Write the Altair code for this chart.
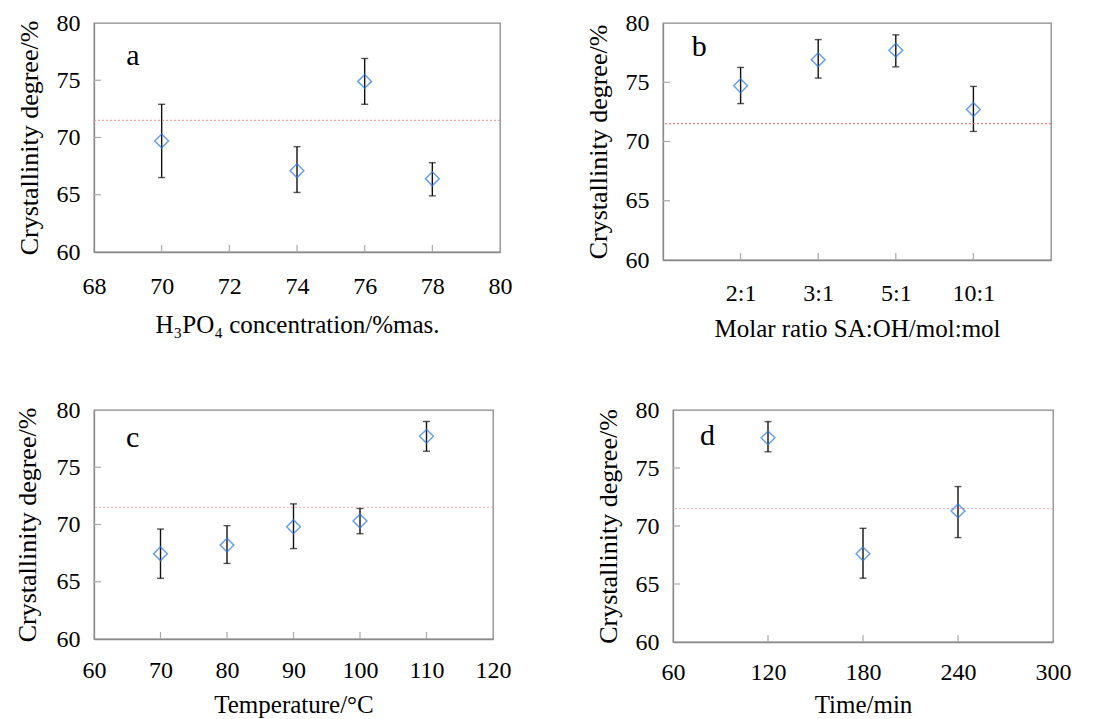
import altair as alt
import pandas as pd

FONT = "Liberation Serif"
Y_TITLE = "Crystallinity degree/%"
REF_Y = [71.5]
Y_TICKS = [60, 65, 70, 75, 80]
Y_INNER = [65, 70, 75]

# panel a
a_x = [70, 74, 76, 78]
a_y = [69.7, 67.1, 74.9, 66.4]
a_lo = [66.5, 65.2, 72.9, 64.9]
a_hi = [72.9, 69.2, 76.9, 67.8]
a_ticks = [68, 70, 72, 74, 76, 78, 80]

# panel b
b_cat = ["2:1", "3:1", "5:1", "10:1"]
b_y = [74.7, 76.9, 77.7, 72.7]
b_lo = [73.2, 75.35, 76.3, 70.85]
b_hi = [76.25, 78.6, 79.0, 74.65]

# panel c
c_x = [70, 80, 90, 100, 110]
c_y = [67.45, 68.2, 69.8, 70.3, 77.7]
c_lo = [65.3, 66.6, 67.9, 69.2, 76.4]
c_hi = [69.6, 69.9, 71.8, 71.4, 79.0]
c_ticks = [60, 70, 80, 90, 100, 110, 120]

# panel d
d_x = [120, 180, 240]
d_y = [77.6, 67.6, 71.3]
d_lo = [76.4, 65.5, 69.0]
d_hi = [79.0, 69.8, 73.4]
d_ticks = [60, 120, 180, 240, 300]

BLUE = "#2f78dc"
FRAME = "#8a8a8a"


def panel(x, y, lo, hi, xdomain, xticks, inner_x, xtitle, letter, lxy,
          width, height, ref_color, label_expr=None, xlabpad=14, xtitlepad=12,
          ytitlepad=14):
    df = pd.DataFrame({"x": x, "y": y, "lo": lo, "hi": hi})
    xs = alt.Scale(domain=xdomain, nice=False, zero=False)
    ys = alt.Scale(domain=[60, 80], nice=False, zero=False)
    common = dict(ticks=False, grid=False, domainColor=FRAME, domainWidth=1.3,
                  labelFont=FONT, titleFont=FONT, labelFontSize=24,
                  labelColor="black", titleColor="black",
                  titleFontWeight="normal")
    ax_kw = dict(values=xticks, title=xtitle, labelPadding=xlabpad,
                 titlePadding=xtitlepad, titleFontSize=25, labelFlush=False,
                 **common)
    if label_expr:
        ax_kw["labelExpr"] = label_expr
    xaxis = alt.Axis(**ax_kw)
    yaxis = alt.Axis(values=Y_TICKS, title=Y_TITLE, labelPadding=14,
                     titlePadding=ytitlepad, titleFontSize=26, labelFlush=False,
                     **common)

    base = alt.Chart(df)
    err = base.mark_rule(color="#111", strokeWidth=1.4).encode(
        x=alt.X("x:Q", scale=xs, axis=xaxis),
        y=alt.Y("lo:Q", scale=ys, axis=yaxis),
        y2="hi:Q",
    )
    cap_lo = base.mark_tick(orient="horizontal", size=7, thickness=1.4,
                            color="#111").encode(
        x=alt.X("x:Q", scale=xs), y=alt.Y("lo:Q", scale=ys))
    cap_hi = base.mark_tick(orient="horizontal", size=7, thickness=1.4,
                            color="#111").encode(
        x=alt.X("x:Q", scale=xs), y=alt.Y("hi:Q", scale=ys))
    pts = base.mark_point(shape="diamond", filled=False, color=BLUE,
                          size=190, strokeWidth=1.5).encode(
        x=alt.X("x:Q", scale=xs), y=alt.Y("y:Q", scale=ys))
    ref = alt.Chart(pd.DataFrame({"r": REF_Y})).mark_rule(
        color=ref_color, strokeDash=[2, 2], strokeWidth=1).encode(
        y=alt.Y("r:Q", scale=ys))
    tx = alt.Chart(pd.DataFrame({"t": inner_x})).mark_rule(
        color="#aaaaaa", strokeWidth=1.2).encode(
        x=alt.X("t:Q", scale=xs), y=alt.value(height), y2=alt.value(height - 7))
    ty = alt.Chart(pd.DataFrame({"t": Y_INNER})).mark_rule(
        color="#aaaaaa", strokeWidth=1.2).encode(
        y=alt.Y("t:Q", scale=ys), x=alt.value(0), x2=alt.value(7))
    lab = alt.Chart(pd.DataFrame({"lx": [lxy[0]], "ly": [lxy[1]], "s": [letter]})).mark_text(
        font=FONT, fontSize=30, align="left", baseline="middle", color="black").encode(
        x=alt.X("lx:Q", scale=xs), y=alt.Y("ly:Q", scale=ys), text="s:N")
    return alt.layer(err, ref, tx, ty, cap_lo, cap_hi, pts, lab).properties(
        width=width, height=height)


b_pos = list(range(1, len(b_cat) + 1))
b_expr = "[''," + ",".join("'%s'" % c for c in b_cat) + "][datum.value]"

pa = panel(a_x, a_y, a_lo, a_hi, [68, 80], a_ticks, [70, 72, 74, 76, 78],
           "H\u2083PO\u2084 concentration/%mas.", "a", (68.95, 77.1),
           406, 229, "#f08a8a", xlabpad=22, xtitlepad=14)
pb = panel(b_pos, b_y, b_lo, b_hi, [0, 5], b_pos, b_pos,
           "Molar ratio SA:OH/mol:mol", "b", (0.37, 78.0),
           388, 237, "#ff5a5a", label_expr=b_expr, xlabpad=21, xtitlepad=11)
pc = panel(c_x, c_y, c_lo, c_hi, [60, 120], c_ticks, [70, 80, 90, 100, 110],
           "Temperature/\u00b0C", "c", (64.8, 77.55),
           399, 229, "#f7b0b0", xlabpad=19, xtitlepad=10, ytitlepad=16)
pd_ = panel(d_x, d_y, d_lo, d_hi, [60, 300], d_ticks, [120, 180, 240],
            "Time/min", "d", (77.0, 77.8),
            380, 232, "#f7b0b0", xlabpad=18, xtitlepad=8)

top = alt.hconcat(pa, pb, spacing=71)
bottom = alt.hconcat(pc, pd_, spacing=82)
chart = alt.vconcat(top, bottom, spacing=55).properties(
    padding={"left": 5, "top": 2, "right": 5, "bottom": 5}
).configure_view(stroke=FRAME, strokeWidth=1.3)

chart.save("out.html", embed_options={"renderer": "svg", "actions": False})
